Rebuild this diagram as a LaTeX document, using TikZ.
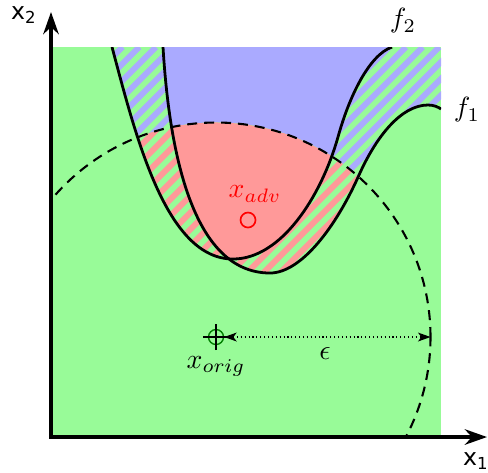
\documentclass[tikz,border=0pt]{standalone}
\usepackage{fontspec}
\newfontfamily\axisfont{DejaVu Sans}
\usetikzlibrary{arrows.meta}

\definecolor{regiongreen}{RGB}{152,251,152}
\definecolor{regionblue}{RGB}{170,170,255}
\definecolor{regionred}{RGB}{255,153,153}
\definecolor{origgreen}{RGB}{0,128,0}

% the two decision boundaries
\newcommand{\ftwocurve}{(61,390) .. controls (85,300) and (115,178) .. (182,178)
  .. controls (230,178) and (270,240) .. (287,300)
  .. controls (298,340) and (318,382) .. (341,390)}
\newcommand{\fonecurve}{(112,390) .. controls (118,290) and (140,164) .. (219,164)
  .. controls (250,164) and (285,210) .. (308,262)
  .. controls (325,300) and (350,332) .. (377,332)
  .. controls (383,332) and (387,330) .. (390,328)}
% diagonal stripes
\newcommand{\hatchfill}[1]{\foreach \k in {-25,...,24} \draw[#1, line width=2.1pt] ({15+16.67*\k},0) -- ++(390,390);}

\begin{document}
\begin{tikzpicture}[
  x=0.36pt, y=0.36pt,
  boundary/.style={line width=1pt},
  ball/.style={line width=0.75pt, dash pattern=on 3.6pt off 2.5pt},
  axis/.style={line width=1.2pt, {Stealth[length=8pt,width=5.6pt,inset=2.6pt]}-{Stealth[length=8pt,width=5.6pt,inset=2.6pt]}},
  radius/.style={line width=0.4pt, densely dotted, {Stealth[length=4.5pt,width=3.2pt,inset=1.2pt]}-{Stealth[length=4.5pt,width=3.2pt,inset=1.2pt]}}
]
\useasboundingbox (-51,-35) rectangle (437,437);

\fill[regiongreen] (0,0) rectangle (390,390);

% one of the two classifiers fooled
\begin{scope}
  \clip \ftwocurve -- cycle;
  \hatchfill{regionblue}
\end{scope}
\begin{scope}
  \clip \fonecurve -- (390,390) -- cycle;
  \hatchfill{regionblue}
\end{scope}
\begin{scope}
  \clip \ftwocurve -- cycle;
  \clip \fonecurve -- (390,390) -- cycle;
  \fill[regionblue] (0,0) rectangle (390,390);
\end{scope}

% inside the epsilon ball
\begin{scope}
  \clip (0,0) rectangle (390,390);
  \clip (165,100) circle (214.5);
  \begin{scope}
    \clip \ftwocurve -- cycle;
    \fill[regiongreen] (0,0) rectangle (390,390);
    \hatchfill{regionred}
  \end{scope}
  \begin{scope}
    \clip \fonecurve -- (390,390) -- cycle;
    \fill[regiongreen] (0,0) rectangle (390,390);
    \hatchfill{regionred}
  \end{scope}
  \begin{scope}
    \clip \ftwocurve -- cycle;
    \clip \fonecurve -- (390,390) -- cycle;
    \fill[regionred] (0,0) rectangle (390,390);
  \end{scope}
\end{scope}

\begin{scope}
  \clip (0,0) rectangle (390,390);
  \draw[ball] (165,100) circle (214.5);
  \draw[boundary] \ftwocurve;
  \draw[boundary] \fonecurve;
\end{scope}

\node at (352,416) (ftwo) {$f_2$};
\node at (416,327) (fone) {$f_1$};

% axes
\coordinate (origin) at (0,0);
\coordinate (xonetip) at (436,0);
\coordinate (xtwotip) at (0,425);
\draw[axis] (xtwotip) -- (origin) -- (xonetip);
\node at (425,-24) (xone) {\axisfont\fontsize{8.5}{10}\selectfont x\textsubscript{1}};
\node at (-27,422) (xtwo) {\axisfont\fontsize{8.5}{10}\selectfont x\textsubscript{2}};

% original and adversarial points
\node at (165,100) (xorig) [circle, draw=origgreen, line width=0.5pt, inner sep=0pt, minimum size=5.4pt] {};
\draw[line width=0.4pt] (xorig.center) ++(-13,0) -- ++(26,0);
\draw[line width=0.4pt] (xorig.center) ++(0,-13) -- ++(0,26);
\node at (165,71) (origlabel) {$x_{orig}$};
\coordinate (rim) at (379.5,100);
\draw[radius] (xorig) -- (rim);
\node at (274,84) (eps) {$\epsilon$};

\node at (197,217) (xadv) [circle, draw=red, line width=0.6pt, inner sep=0pt, minimum size=5.4pt] {};
\node at (204,243) (advlabel) [text=red] {$x_{adv}$};

\end{tikzpicture}
\end{document}
